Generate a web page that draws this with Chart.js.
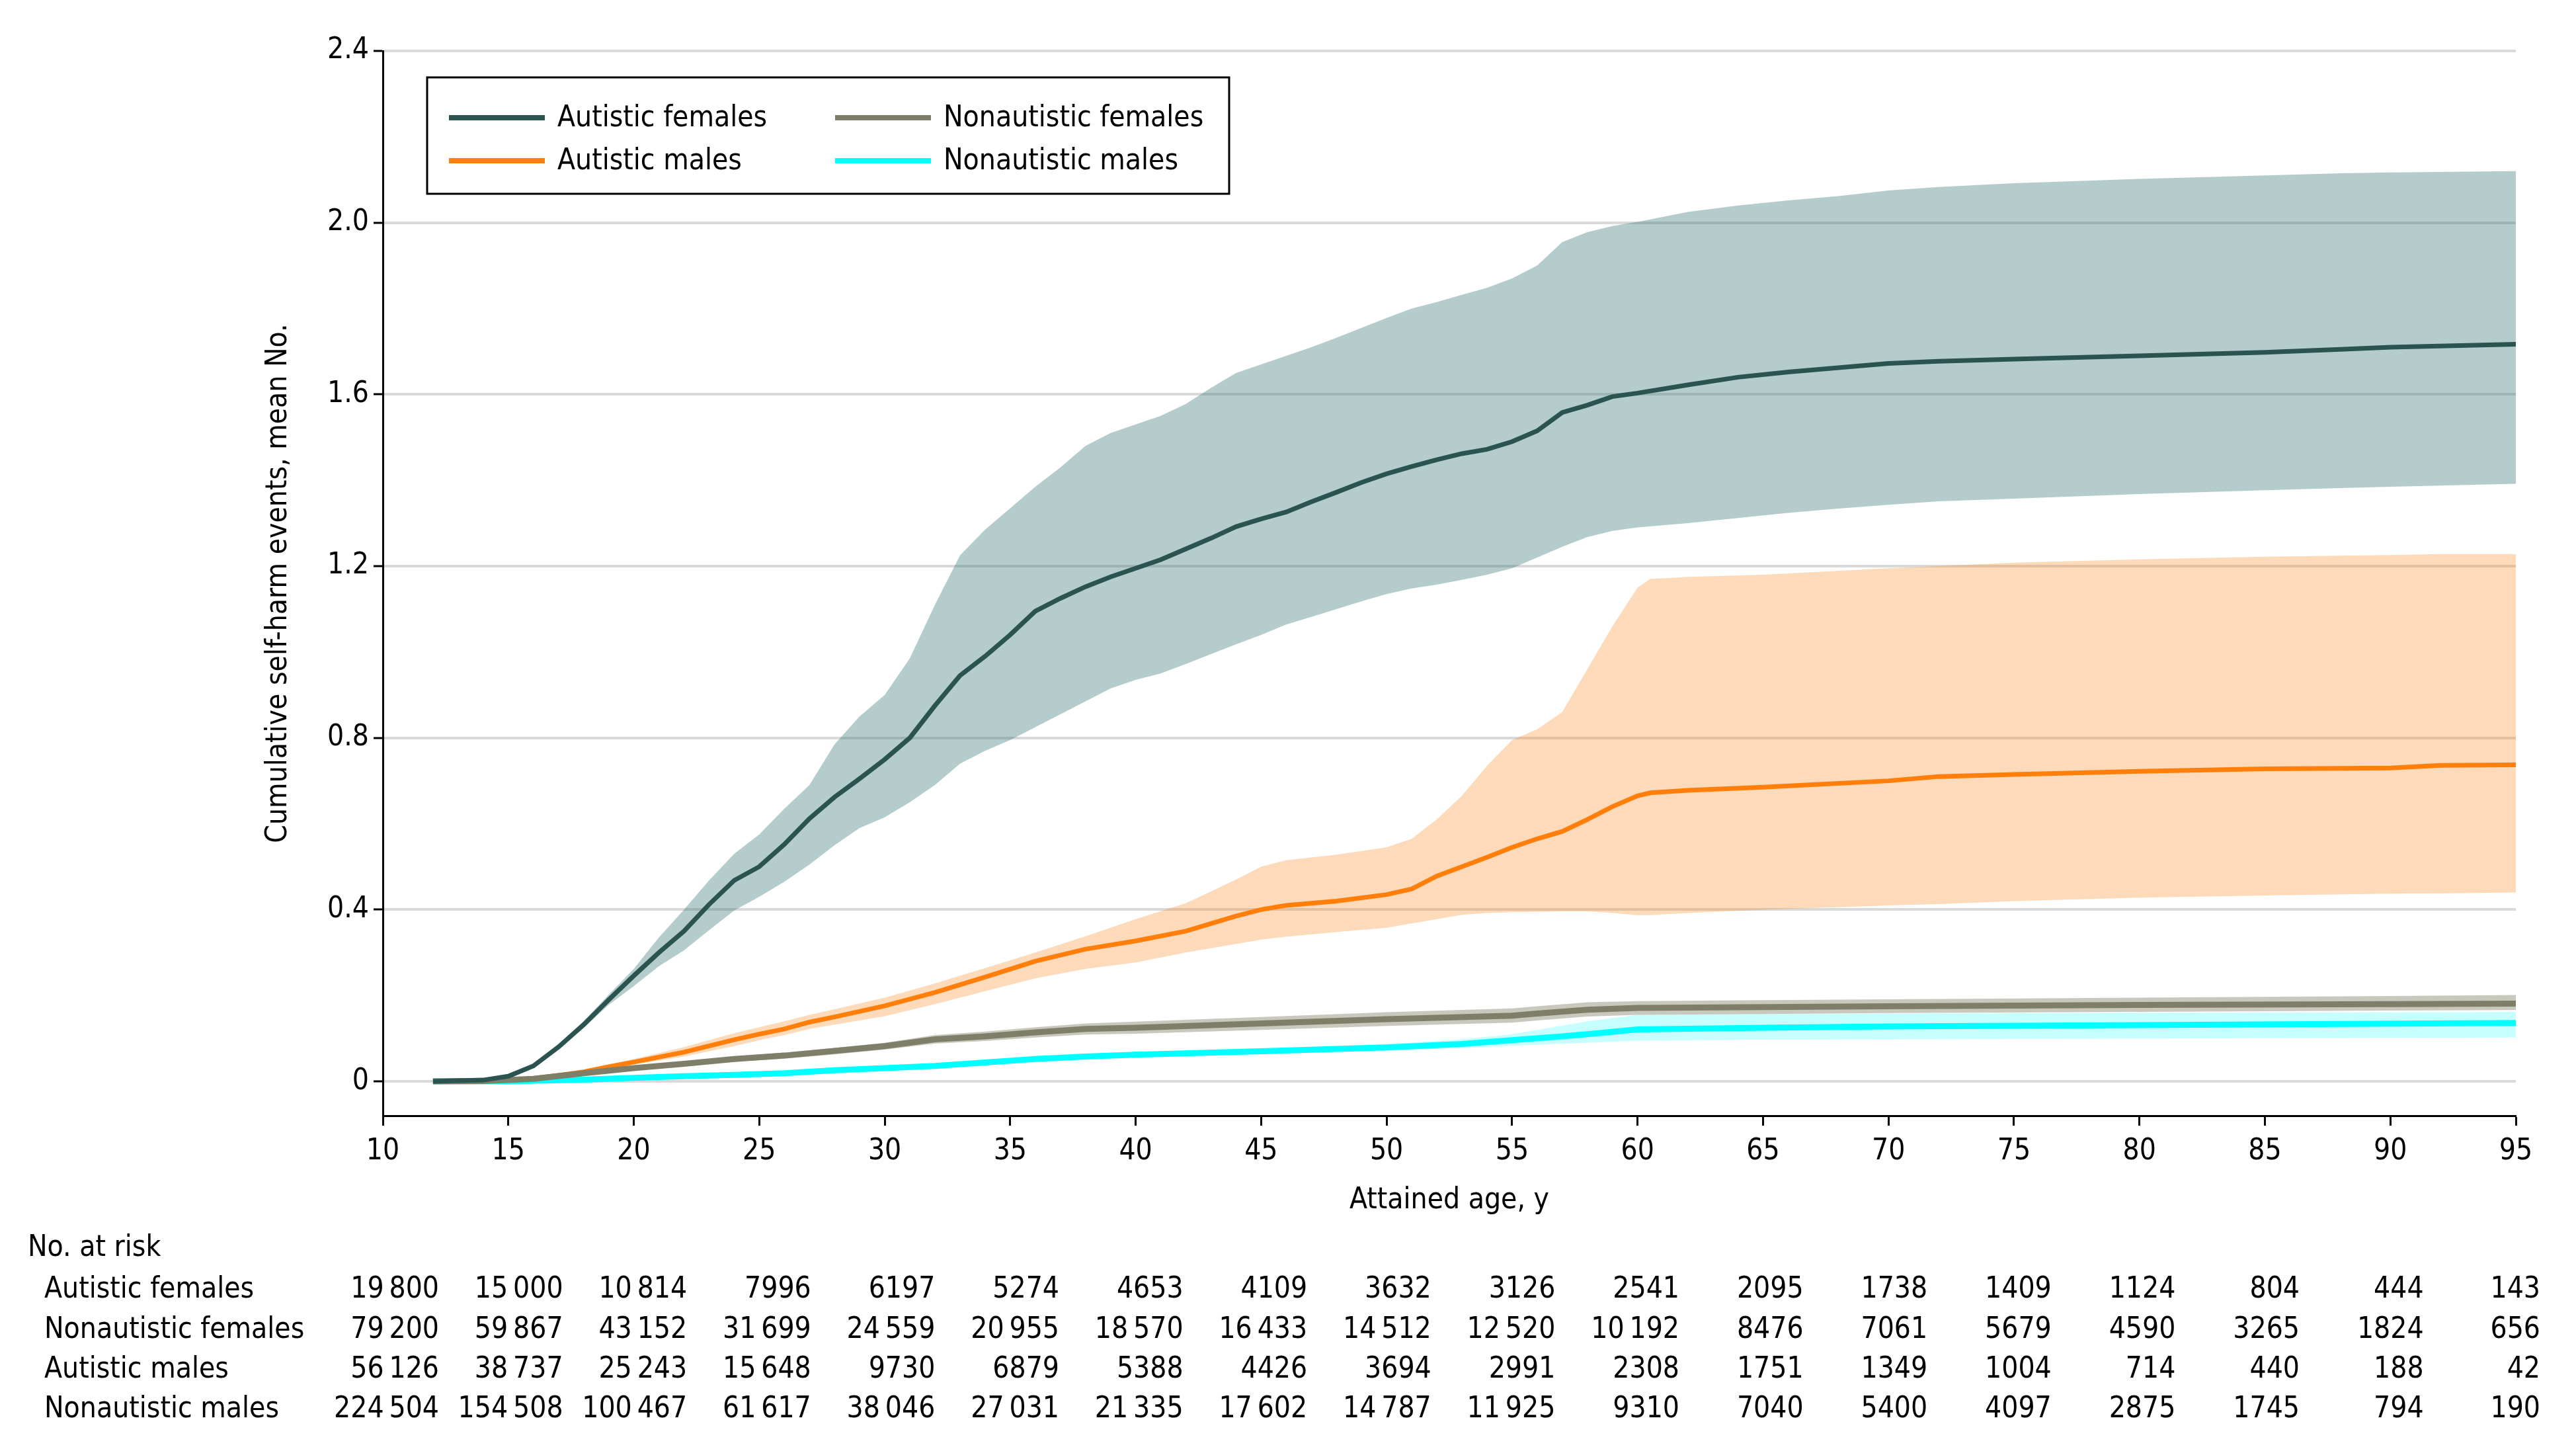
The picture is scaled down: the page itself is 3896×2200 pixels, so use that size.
<!DOCTYPE html>
<html>
<head>
<meta charset="utf-8">
<script src="https://cdn.jsdelivr.net/npm/chart.js@4/dist/chart.umd.min.js"></script>
<style>
html,body{margin:0;padding:0;background:#fff;}
#wrap{width:3896px;height:2200px;position:relative;}
canvas{display:block;}
</style>
</head>
<body>
<div id="wrap"><canvas id="c" width="3896" height="2200"></canvas></div>
<script>
// ---------------- DATA ----------------
const seriesNames = ["Autistic females", "Nonautistic females", "Autistic males", "Nonautistic males"];
const xTickValues = [10,15,20,25,30,35,40,45,50,55,60,65,70,75,80,85,90,95];
const yTickValues = [0,0.4,0.8,1.2,1.6,2.0,2.4];

// Autistic females
const afAges  = [12,14,15,16,17,18,19,20,21,22,23,24,25,26,27,28,29,30,31,32,33,34,35,36,37,38,39,40,41,42,43,44,45,46,47,48,49,50,51,52,53,54,55,56,57,58,59,60,62,64,66,68,70,72,75,80,85,88,90,95];
const afMean  = [0,0.003,0.012,0.036,0.080,0.132,0.190,0.246,0.300,0.350,0.412,0.468,0.500,0.552,0.612,0.662,0.705,0.750,0.800,0.875,0.945,0.990,1.040,1.095,1.125,1.152,1.175,1.195,1.215,1.240,1.265,1.292,1.310,1.326,1.350,1.372,1.395,1.415,1.432,1.448,1.462,1.472,1.490,1.515,1.558,1.575,1.595,1.603,1.622,1.640,1.652,1.662,1.672,1.677,1.682,1.690,1.698,1.705,1.710,1.717];
const afUpper = [0,0.004,0.014,0.040,0.086,0.140,0.202,0.262,0.335,0.400,0.468,0.530,0.575,0.635,0.690,0.785,0.850,0.900,0.985,1.110,1.225,1.285,1.335,1.385,1.430,1.480,1.510,1.530,1.550,1.578,1.615,1.650,1.670,1.690,1.710,1.732,1.755,1.778,1.800,1.815,1.832,1.848,1.870,1.900,1.955,1.978,1.992,2.002,2.025,2.040,2.052,2.062,2.075,2.083,2.092,2.102,2.110,2.115,2.117,2.120];
const afLower = [0,0.002,0.010,0.032,0.074,0.124,0.178,0.222,0.268,0.305,0.352,0.398,0.430,0.465,0.505,0.550,0.590,0.615,0.650,0.690,0.740,0.770,0.795,0.825,0.855,0.885,0.915,0.935,0.950,0.972,0.995,1.018,1.040,1.064,1.082,1.100,1.118,1.135,1.148,1.157,1.168,1.180,1.195,1.220,1.245,1.268,1.282,1.290,1.300,1.312,1.324,1.334,1.343,1.351,1.357,1.368,1.377,1.382,1.385,1.392];

// Nonautistic females
const nfAges  = [12,14,16,18,20,22,24,26,28,30,32,34,36,38,40,45,50,55,56,58,60,65,70,80,90,95];
const nfMean  = [0,0.001,0.006,0.019,0.031,0.041,0.052,0.060,0.071,0.082,0.098,0.105,0.114,0.122,0.125,0.135,0.145,0.153,0.158,0.167,0.171,0.173,0.175,0.178,0.180,0.181];
const nfUpper = [0,0.002,0.008,0.022,0.035,0.046,0.058,0.067,0.078,0.090,0.108,0.116,0.126,0.135,0.139,0.150,0.161,0.170,0.175,0.184,0.187,0.189,0.191,0.195,0.199,0.201];
const nfLower = [0,0.000,0.004,0.016,0.027,0.036,0.046,0.053,0.063,0.074,0.088,0.094,0.102,0.109,0.111,0.120,0.129,0.137,0.142,0.151,0.155,0.157,0.159,0.162,0.165,0.166];

// Autistic males
const amAges  = [12,15,16,17,18,19,20,22,24,25,26,27,28,30,32,34,36,38,40,42,44,45,46,48,50,51,52,53,54,55,56,57,58,59,60,60.5,62,65,70,72,75,80,85,90,92,95];
const amMean  = [0,0.003,0.007,0.014,0.022,0.034,0.045,0.068,0.097,0.110,0.122,0.138,0.150,0.176,0.207,0.243,0.280,0.308,0.327,0.350,0.385,0.400,0.410,0.420,0.435,0.448,0.478,0.500,0.522,0.545,0.565,0.582,0.610,0.640,0.665,0.672,0.678,0.685,0.700,0.710,0.715,0.722,0.728,0.730,0.736,0.737];
const amUpper = [0,0.004,0.009,0.017,0.026,0.039,0.052,0.080,0.112,0.126,0.140,0.155,0.168,0.195,0.228,0.264,0.300,0.338,0.378,0.415,0.470,0.500,0.515,0.528,0.545,0.565,0.610,0.665,0.735,0.795,0.820,0.860,0.960,1.060,1.150,1.170,1.175,1.180,1.195,1.200,1.208,1.216,1.222,1.226,1.228,1.228];
const amLower = [0,0.002,0.005,0.011,0.018,0.028,0.039,0.058,0.082,0.096,0.108,0.122,0.132,0.152,0.180,0.210,0.240,0.262,0.277,0.300,0.320,0.330,0.337,0.348,0.358,0.368,0.378,0.388,0.392,0.394,0.395,0.396,0.396,0.392,0.387,0.387,0.392,0.400,0.410,0.413,0.420,0.428,0.433,0.437,0.438,0.440];

// Nonautistic males
const nmAges  = [12,15,18,20,22,24,26,28,30,32,34,36,38,40,45,50,53,55,57,58,60,65,70,80,95];
const nmMean  = [0,0.000,0.004,0.008,0.012,0.015,0.019,0.026,0.031,0.036,0.044,0.052,0.058,0.062,0.070,0.079,0.087,0.096,0.105,0.110,0.121,0.125,0.128,0.131,0.136];
const nmUpper = [0,0.001,0.005,0.010,0.014,0.017,0.021,0.028,0.034,0.039,0.047,0.056,0.062,0.067,0.076,0.087,0.098,0.110,0.130,0.140,0.155,0.157,0.158,0.160,0.162];
const nmLower = [0,0.000,0.003,0.007,0.010,0.013,0.017,0.023,0.028,0.033,0.040,0.048,0.053,0.057,0.064,0.071,0.077,0.083,0.088,0.090,0.095,0.097,0.098,0.100,0.102];

// Number at risk (columns at ages 10..95)
const riskAutFemales    = [19800,15000,10814,7996,6197,5274,4653,4109,3632,3126,2541,2095,1738,1409,1124,804,444,143];
const riskNonautFemales = [79200,59867,43152,31699,24559,20955,18570,16433,14512,12520,10192,8476,7061,5679,4590,3265,1824,656];
const riskAutMales      = [56126,38737,25243,15648,9730,6879,5388,4426,3694,2991,2308,1751,1349,1004,714,440,188,42];
const riskNonautMales   = [224504,154508,100467,61617,38046,27031,21335,17602,14787,11925,9310,7040,5400,4097,2875,1745,794,190];

// ---------------- STYLE ----------------
const FONT = "'DejaVu Sans Condensed','Liberation Sans Narrow','DejaVu Sans',sans-serif";
const FS = 44;
const lineColors = ["#2B5451", "#7F7F69", "#FF7F0A", "#00FFFF"];
const lineWidths = [7, 9, 7, 9];
const bandColors = ["rgba(60,120,120,0.38)", "rgba(117,117,87,0.40)", "rgba(245,132,28,0.30)", "rgba(0,255,255,0.22)"];

const pts = (xs, ys) => xs.map((x, i) => ({x: x, y: ys[i]}));
const groups = [
  {ages: afAges, mean: afMean, up: afUpper, lo: afLower},
  {ages: nfAges, mean: nfMean, up: nfUpper, lo: nfLower},
  {ages: amAges, mean: amMean, up: amUpper, lo: amLower},
  {ages: nmAges, mean: nmMean, up: nmUpper, lo: nmLower}
];

const datasets = [];
// bands: draw order cyan (bottom) -> orange -> gray -> teal
const bandOrder = [3, 2, 1, 0];
bandOrder.forEach((g, k) => {
  const G = groups[g];
  datasets.push({label: seriesNames[g] + " upper", data: pts(G.ages, G.up), borderWidth: 0, pointRadius: 0,
    backgroundColor: bandColors[g], fill: '+1', order: 20 - k * 2});
  datasets.push({label: seriesNames[g] + " lower", data: pts(G.ages, G.lo), borderWidth: 0, pointRadius: 0,
    backgroundColor: bandColors[g], fill: false, order: 19 - k * 2});
});
// mean lines: cyan, orange, gray, teal (teal on top)
const lineDraw = [3, 2, 1, 0];
lineDraw.forEach((g, k) => {
  const G = groups[g];
  datasets.push({label: seriesNames[g], data: pts(G.ages, G.mean), borderColor: lineColors[g],
    borderWidth: lineWidths[g], pointRadius: 0, fill: false, tension: 0, order: 4 - k});
});

const fmt = n => {
  if (n >= 10000) { const s = String(n); return s.slice(0, s.length - 3) + "\u2009" + s.slice(-3); }
  return String(n);
};

const legendPlugin = {
  id: 'customLegend',
  afterDraw(chart) {
    const ctx = chart.ctx;
    ctx.save();
    ctx.fillStyle = '#fff';
    ctx.fillRect(646, 117, 1213, 176);
    ctx.strokeStyle = '#000';
    ctx.lineWidth = 3;
    ctx.strokeRect(646, 117, 1213, 176);
    const pos = [[679, 178], [1263, 178], [679, 243], [1263, 243]];
    ctx.font = FS + "px " + FONT;
    ctx.textBaseline = 'middle';
    ctx.textAlign = 'left';
    for (let g = 0; g < 4; g++) {
      const [x, y] = pos[g];
      ctx.strokeStyle = lineColors[g];
      ctx.lineWidth = 8;
      ctx.beginPath(); ctx.moveTo(x, y); ctx.lineTo(x + 145, y); ctx.stroke();
      ctx.fillStyle = '#000';
      ctx.fillText(seriesNames[g], x + 164, y + 2);
    }
    ctx.restore();
  }
};

const riskPlugin = {
  id: 'riskTable',
  afterDraw(chart) {
    const ctx = chart.ctx;
    ctx.save();
    ctx.fillStyle = '#000';
    ctx.font = FS + "px " + FONT;
    ctx.textBaseline = 'middle';
    ctx.textAlign = 'left';
    ctx.fillText("No. at risk", 42, 1888);
    const rows = [riskAutFemales, riskNonautFemales, riskAutMales, riskNonautMales];
    const rowY = [1951, 2012, 2072, 2132];
    rows.forEach((r, ri) => {
      ctx.textAlign = 'left';
      ctx.fillText(seriesNames[ri], 67, rowY[ri]);
      ctx.textAlign = 'right';
      r.forEach((v, i) => {
        const x = i < 17 ? 664 + i * 187.6 : 3842;
        ctx.fillText(fmt(v), x, rowY[ri]);
      });
    });
    ctx.restore();
  }
};

const chart = new Chart(document.getElementById('c'), {
  type: 'line',
  data: {datasets: datasets},
  plugins: [legendPlugin, riskPlugin],
  options: {
    responsive: false,
    devicePixelRatio: 1,
    animation: false,
    layout: {padding: {left: 395, top: 77, right: 91, bottom: 358}},
    plugins: {legend: {display: false}, tooltip: {enabled: false}, title: {display: false},
      filler: {propagate: false}},
    scales: {
      x: {
        type: 'linear', min: 10, max: 95,
        afterBuildTicks: axis => { axis.ticks = xTickValues.map(v => ({value: v})); },
        afterFit: axis => { axis.height = 155; },
        ticks: {font: {family: FONT, size: FS}, color: '#000', padding: 13, maxRotation: 0, autoSkip: false,
          callback: v => String(v)},
        grid: {drawOnChartArea: false, drawTicks: true, tickLength: 15, tickColor: '#000', tickWidth: 3},
        border: {display: true, color: '#000', width: 3},
        title: {display: true, text: 'Attained age, y', font: {family: FONT, size: FS}, color: '#000', padding: 0}
      },
      y: {
        type: 'linear', min: -0.08, max: 2.4,
        afterBuildTicks: axis => { axis.ticks = yTickValues.map(v => ({value: v})); },
        afterFit: axis => { axis.width = 184; },
        ticks: {font: {family: FONT, size: FS}, color: '#000', padding: 7,
          callback: v => (v === 0 ? '0' : v.toFixed(1))},
        grid: {color: '#D9D9D9', lineWidth: 4, drawTicks: true, tickLength: 14, tickColor: '#000', tickWidth: 3},
        border: {display: true, color: '#000', width: 3},
        title: {display: true, text: 'Cumulative self-harm events, mean No.', font: {family: FONT, size: FS}, color: '#000', padding: 0}
      }
    }
  }
});
</script>
</body>
</html>
